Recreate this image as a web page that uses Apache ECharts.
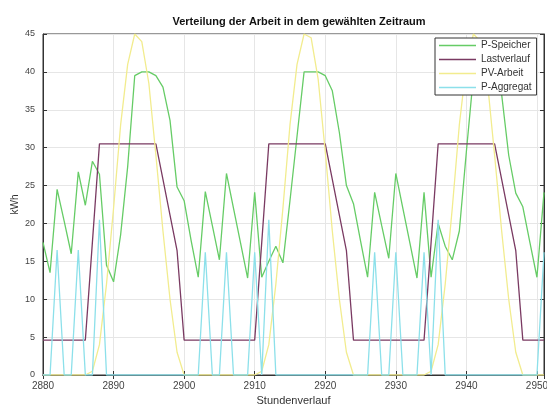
<!DOCTYPE html>
<html>
<head>
<meta charset="utf-8">
<script src="https://cdn.jsdelivr.net/npm/echarts@6/dist/echarts.min.js"></script>
<style>
html,body{margin:0;padding:0;background:#fff;}
#chart{width:547px;height:408px;}
</style>
</head>
<body>
<div id="chart"></div>
<script>
// ---- data ----
var titleText = 'Verteilung der Arbeit in dem gewählten Zeitraum';
var xName = 'Stundenverlauf';
var yName = 'kWh';
var seriesNames = ['P-Speicher', 'Lastverlauf', 'PV-Arbeit', 'P-Aggregat'];

var hours = [2880,2881,2882,2883,2884,2885,2886,2887,2888,2889,2890,2891,2892,2893,2894,2895,2896,2897,2898,2899,
  2900,2901,2902,2903,2904,2905,2906,2907,2908,2909,2910,2911,2912,2913,2914,2915,2916,2917,2918,2919,
  2920,2921,2922,2923,2924,2925,2926,2927,2928,2929,2930,2931,2932,2933,2934,2935,2936,2937,2938,2939,
  2940,2941,2942,2943,2944,2945,2946,2947,2948,2949,2950,2951];

var pSpeicher = [17.5,13.5,24.5,20.3,16.0,26.8,22.4,28.2,26.5,14.5,12.3,18.5,27.5,39.5,40,40,39.5,38,33.6,24.8,
  23,17.7,12.9,24.2,19.7,15.2,26.6,22,17.4,12.8,24.1,12.9,15,17,14.8,23,31.5,40,40,40,
  39.5,37.5,32,25,22.6,17.7,12.9,24.1,19.7,15.4,26.6,22,17.4,12.8,24.1,12.9,20,17,15.2,19,
  29.5,39.5,40,40,39.5,37,29,24,22.2,17.5,12.9,24.1];

var lastverlauf = [4.6,4.6,4.6,4.6,4.6,4.6,4.6,17.5,30.5,30.5,30.5,30.5,30.5,30.5,30.5,30.5,30.5,25.8,21.1,16.4,
  4.6,4.6,4.6,4.6,4.6,4.6,4.6,4.6,4.6,4.6,4.6,17.5,30.5,30.5,30.5,30.5,30.5,30.5,30.5,30.5,
  30.5,25.8,21.1,16.4,4.6,4.6,4.6,4.6,4.6,4.6,4.6,4.6,4.6,4.6,4.6,17.5,30.5,30.5,30.5,30.5,
  30.5,30.5,30.5,30.5,30.5,25.8,21.1,16.4,4.6,4.6,4.6,4.6];

var pvArbeit = [0,0,0,0,0,0,0,0.5,4,12,22,33,41,45,44,38.5,29,19,10,3,
  0,0,0,0,0,0,0,0,0,0,0,0.5,4,12,22,33,41,45,44.5,39,
  29.5,19,10,3,0,0,0,0,0,0,0,0,0,0,0,0.5,4,12,22,33,
  41,45,44,38.5,29,19,10,3,0,0,0,0];

var pAggregat = [0,0,16.5,0,0,16.5,0,0,20.5,0,0,0,0,0,0,0,0,0,0,0,
  0,0,0,16.2,0,0,16.2,0,0,0,16.2,0,20.5,0,0,0,0,0,0,0,
  0,0,0,0,0,0,0,16.2,0,0,16.2,0,0,0,16.2,0,20.5,0,0,0,
  0,0,0,0,0,0,0,0,0,0,0,16.2];

var xTicks = [2880,2890,2900,2910,2920,2930,2940,2950];
var yTicks = [0,5,10,15,20,25,30,35,40,45];

// ---- build ----
function pairs(vals){ return hours.map(function(h,i){ return [h, vals[i]]; }); }
var colors = ['#66cc66', '#7a3a62', '#f2ec8e', '#8ce0ea'];
var FONT = '"Liberation Sans", Arial, Helvetica, sans-serif';
var allVals = [pSpeicher, lastverlauf, pvArbeit, pAggregat];

var chart = echarts.init(document.getElementById('chart'), null, {renderer:'canvas'});
var option = {
  backgroundColor: '#fff',
  animation: false,
  title: {
    text: titleText, left: 294, top: 11, textAlign: 'center',
    textStyle: {fontFamily: FONT, fontSize: 11, fontWeight: 'bold', color: '#111'}
  },
  grid: {left: 43, right: 3, top: 34, bottom: 33, outerBoundsMode: 'none', containLabel: false,
    show: true, borderColor: '#333', borderWidth: 1, backgroundColor: '#fff'},
  legend: {
    orient: 'vertical', left: 435, top: 38,
    data: seriesNames,
    icon: 'rect', itemWidth: 37, itemHeight: 1.5, itemGap: 3,
    padding: [2, 5, 2, 4],
    backgroundColor: '#fff', borderColor: '#333', borderWidth: 1,
    textStyle: {fontFamily: FONT, fontSize: 10, lineHeight: 11, color: '#333'}
  },
  xAxis: [{
    type: 'value', min: 2880, max: 2951, interval: 10,
    name: xName, nameLocation: 'middle', nameGap: 20, nameMoveOverlap: false,
    nameTextStyle: {fontFamily: FONT, fontSize: 11, color: '#333'},
    axisLine: {show: true, lineStyle: {color: '#333', width: 1}},
    axisTick: {show: true, inside: true, length: 4, lineStyle: {color: '#333'}},
    axisLabel: {fontFamily: FONT, fontSize: 10, color: '#444', margin: 6,
      formatter: function(v){ return xTicks.indexOf(v) >= 0 ? String(v) : ''; }},
    splitLine: {show: true, lineStyle: {color: '#e6e6e6', width: 1}}
  }, {
    type: 'value', position: 'top', min: 2880, max: 2951, interval: 10,
    axisLine: {show: true, lineStyle: {color: '#333'}},
    axisTick: {show: true, inside: true, length: 4, lineStyle: {color: '#333'}},
    axisLabel: {show: false}, splitLine: {show: false}
  }],
  yAxis: [{
    type: 'value', min: 0, max: 45, interval: 5,
    name: yName, nameLocation: 'middle', nameGap: 23, nameMoveOverlap: false,
    nameTextStyle: {fontFamily: FONT, fontSize: 10, color: '#333'},
    axisLine: {show: true, lineStyle: {color: '#333', width: 1}},
    axisTick: {show: true, inside: true, length: 4, lineStyle: {color: '#333'}},
    axisLabel: {fontFamily: FONT, fontSize: 9, color: '#444', margin: 8,
      formatter: function(v){ return yTicks.indexOf(v) >= 0 ? String(v) : ''; }},
    splitLine: {show: true, lineStyle: {color: '#e6e6e6', width: 1}}
  }, {
    type: 'value', position: 'right', min: 0, max: 45, interval: 5,
    axisLine: {show: true, lineStyle: {color: '#333'}},
    axisTick: {show: true, inside: true, length: 4, lineStyle: {color: '#333'}},
    axisLabel: {show: false}, splitLine: {show: false}
  }],
  series: seriesNames.map(function(n, i){
    return {
      name: n, type: 'line', xAxisIndex: 0, yAxisIndex: 0,
      data: pairs(allVals[i]),
      symbol: 'none', showSymbol: false,
      lineStyle: {color: colors[i], width: 1.3},
      itemStyle: {color: colors[i]},
      emphasis: {disabled: true}
    };
  })
};
chart.setOption(option);
</script>
</body>
</html>
